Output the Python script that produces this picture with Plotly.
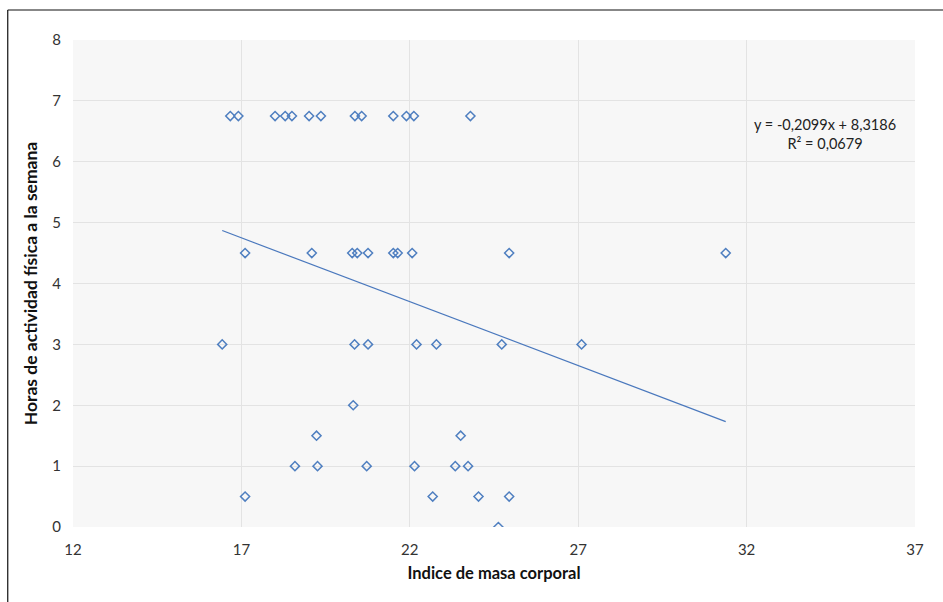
import plotly.graph_objects as go

# Data (IMC vs horas de actividad física)
imc = [16.67, 16.91, 18.00, 18.30, 18.50, 19.01, 19.36, 20.37, 20.57, 21.51, 21.90, 22.12, 23.80,
       17.11, 19.09, 20.29, 20.44, 20.76, 21.51, 21.64, 22.07, 24.95, 31.38,
       16.43, 20.36, 20.76, 22.20, 22.79, 24.73, 27.10,
       20.32,
       19.23, 23.51,
       18.59, 19.26, 20.72, 22.14, 23.35, 23.73,
       17.11, 22.68, 24.04, 24.95,
       24.63]
horas = [6.75] * 13 + [4.5] * 10 + [3] * 7 + [2] + [1.5] * 2 + [1] * 6 + [0.5] * 4 + [0]

slope = -0.2099
intercept = 8.3186
trend_x = [min(imc), max(imc)]
trend_y = [slope * v + intercept for v in trend_x]

x_ticks = [12, 17, 22, 27, 32, 37]
y_ticks = [0, 1, 2, 3, 4, 5, 6, 7, 8]

blue = "#4f7fc0"
font = "Lato, Carlito, Liberation Sans, sans-serif"

fig = go.Figure()
fig.add_trace(go.Scatter(
    x=imc, y=horas, mode="markers",
    marker=dict(symbol="diamond-open", size=7, color=blue, line=dict(width=1.5, color=blue)),
    showlegend=False, hoverinfo="x+y"))
fig.add_trace(go.Scatter(
    x=trend_x, y=trend_y, mode="lines",
    line=dict(color="#4a78bd", width=1.2), showlegend=False))

fig.add_annotation(
    x=0.893, y=0.807, xref="paper", yref="paper",
    xanchor="center", yanchor="middle",
    text="y = -0,2099x + 8,3186<br>R² = 0,0679",
    showarrow=False, align="center",
    font=dict(family=font, size=14.5, color="#222222"))

# figure frame (left and top edges visible in the reference)
fig.add_shape(type="line", xref="paper", yref="paper",
              x0=-0.0775, x1=-0.0775, y0=-0.16, y1=1.0616,
              line=dict(color="#111111", width=1.2))
fig.add_shape(type="line", xref="paper", yref="paper",
              x0=-0.0775, x1=1.04, y0=1.0616, y1=1.0616,
              line=dict(color="#111111", width=1.2))

fig.update_layout(
    width=943, height=602,
    margin=dict(l=73, r=28, t=40, b=75),
    paper_bgcolor="white",
    plot_bgcolor="#f7f7f7",
    font=dict(family=font, size=15, color="#333333"),
    xaxis=dict(
        range=[12, 37], tickvals=x_ticks, ticktext=[str(v) for v in x_ticks],
        showgrid=True, gridcolor="#e3e3e3", gridwidth=1, zeroline=False,
        showline=False, ticks="", ticklen=0, ticklabelstandoff=12,
        tickfont=dict(family=font, size=15, color="#333333"),
        title=dict(text="<b>Indice de masa corporal</b>",
                   font=dict(family=font, size=16.5, color="#111111"), standoff=10),
    ),
    yaxis=dict(
        range=[0, 8], tickvals=y_ticks, ticktext=[str(v) for v in y_ticks],
        showgrid=True, gridcolor="#e3e3e3", gridwidth=1, zeroline=False,
        showline=False, ticks="", ticklabelstandoff=11,
        tickfont=dict(family=font, size=15, color="#333333"),
        title=dict(text="<b>Horas de actividad física a la semana</b>",
                   font=dict(family=font, size=17.5, color="#111111"), standoff=10),
    ),
)

fig.write_html("out.html")
